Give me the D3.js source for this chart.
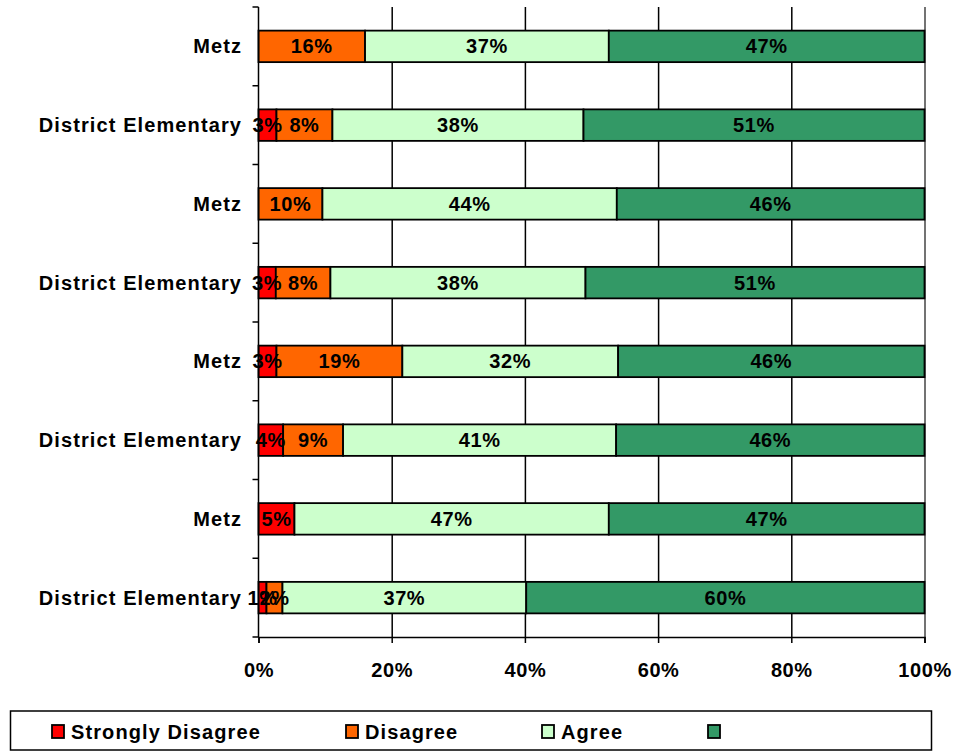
<!DOCTYPE html>
<html>
<head>
<meta charset="utf-8">
<script src="https://cdn.jsdelivr.net/npm/d3@7"></script>
<style>
  html, body { margin: 0; padding: 0; background: #fff; }
  svg { display: block; font-family: "Liberation Sans", Arial, sans-serif; font-weight: bold; }
</style>
</head>
<body>
<svg id="chart" width="961" height="755"></svg>
<script>
// ---- data ----
const categories = ["Metz", "District Elementary", "Metz", "District Elementary",
                    "Metz", "District Elementary", "Metz", "District Elementary"];
const seriesNames = ["Strongly Disagree", "Disagree", "Agree", ""];
const stronglyDisagree = [0,    2.7, 0,    2.6, 2.7,  3.7, 5.4, 1.2];
const disagree         = [16.0, 8.4, 9.6,  8.2, 18.9, 9.0, 0,   2.4];
const agree            = [36.6, 37.7, 44.2, 38.3, 32.4, 41.0, 47.2, 36.6];
const stronglyAgree    = [47.4, 51.2, 46.2, 50.9, 46.0, 46.3, 47.4, 59.8];
const xTicks = [0, 20, 40, 60, 80, 100];
const colors = ["#FF0000", "#FF6600", "#CCFFCC", "#339966"];

const series = [stronglyDisagree, disagree, agree, stronglyAgree];

// ---- layout ----
const svg = d3.select("#chart");
const L = 258.5, R = 924.5, T = 7, B = 637;

const x = d3.scaleLinear().domain([0, 100]).range([L, R]);
const y = d3.scaleBand().domain(d3.range(categories.length)).range([T, B])
  .paddingInner(0.6).paddingOuter(0.3);

// gridlines
const grid = svg.append("g").attr("transform", `translate(0,${T})`)
  .call(d3.axisBottom(x).tickValues(xTicks.slice(1)).tickSize(B - T).tickFormat(""));
grid.select(".domain").remove();
grid.selectAll("line").attr("stroke", "#000").attr("stroke-width", 1.5);
grid.selectAll("g.tick").filter(d => d === 100).select("line").attr("stroke", "#444");

// bars
const rows = categories.map((c, i) => {
  let acc = 0;
  return series.map((s, k) => {
    const v = s[i];
    const seg = { i, k, x0: acc, x1: acc + v, v };
    acc += v;
    return seg;
  });
});
const segs = rows.flat().filter(d => d.v > 0);

svg.append("g").selectAll("rect").data(segs).join("rect")
  .attr("x", d => x(d.x0))
  .attr("y", d => y(d.i))
  .attr("width", d => x(d.x1) - x(d.x0))
  .attr("height", y.bandwidth())
  .attr("fill", d => colors[d.k])
  .attr("stroke", "#000")
  .attr("stroke-width", 1.8);

// value labels
svg.append("g").selectAll("text").data(segs).join("text")
  .attr("x", d => x((d.x0 + d.x1) / 2))
  .attr("y", d => y(d.i) + y.bandwidth() / 2 + 7)
  .attr("text-anchor", "middle")
  .attr("font-size", 20)
  .attr("letter-spacing", 0.6)
  .attr("fill", "#000")
  .text(d => Math.round(d.v) + "%");

// left axis line
svg.append("line").attr("x1", L).attr("x2", L).attr("y1", T).attr("y2", B)
  .attr("stroke", "#000").attr("stroke-width", 1.5);

// left tick marks at band boundaries
const bounds = d3.range(categories.length + 1).map(i => T + i * y.step());
svg.append("g").selectAll("line").data(bounds).join("line")
  .attr("x1", L - 6).attr("x2", L).attr("y1", d => d).attr("y2", d => d)
  .attr("stroke", "#000").attr("stroke-width", 1.5);

// category labels
svg.append("g").selectAll("text").data(categories).join("text")
  .attr("x", 242)
  .attr("y", (d, i) => y(i) + y.bandwidth() / 2 + 7)
  .attr("text-anchor", "end")
  .attr("font-size", 20)
  .attr("letter-spacing", 1.1)
  .attr("fill", "#000")
  .text(d => d);

// bottom axis
const xAxis = svg.append("g").attr("transform", `translate(0,${B})`)
  .call(d3.axisBottom(x).tickValues(xTicks).tickSize(6).tickPadding(20)
    .tickFormat(d => d + "%"));
xAxis.select(".domain").attr("stroke", "#000").attr("stroke-width", 1.5);
xAxis.selectAll("line").attr("stroke", "#000").attr("stroke-width", 1.5);
xAxis.selectAll("text").attr("font-size", 20).attr("letter-spacing", 0.6)
  .attr("font-family", "Liberation Sans, Arial, sans-serif").attr("font-weight", "bold")
  .attr("fill", "#000");

// legend
const lg = svg.append("g");
lg.append("rect").attr("x", 10.5).attr("y", 711).attr("width", 921).attr("height", 39)
  .attr("fill", "#fff").attr("stroke", "#000").attr("stroke-width", 1.5);
const legendX = [52, 346, 542, 708];
const li = lg.selectAll("g.item").data(seriesNames).join("g").attr("class", "item")
  .attr("transform", (d, i) => `translate(${legendX[i]},725)`);
li.append("rect").attr("width", 12).attr("height", 13)
  .attr("fill", (d, i) => colors[i]).attr("stroke", "#000").attr("stroke-width", 1.8);
li.append("text").attr("x", 19).attr("y", 14)
  .attr("font-size", 20).attr("letter-spacing", 1.1).attr("fill", "#000")
  .text(d => d);
</script>
</body>
</html>
